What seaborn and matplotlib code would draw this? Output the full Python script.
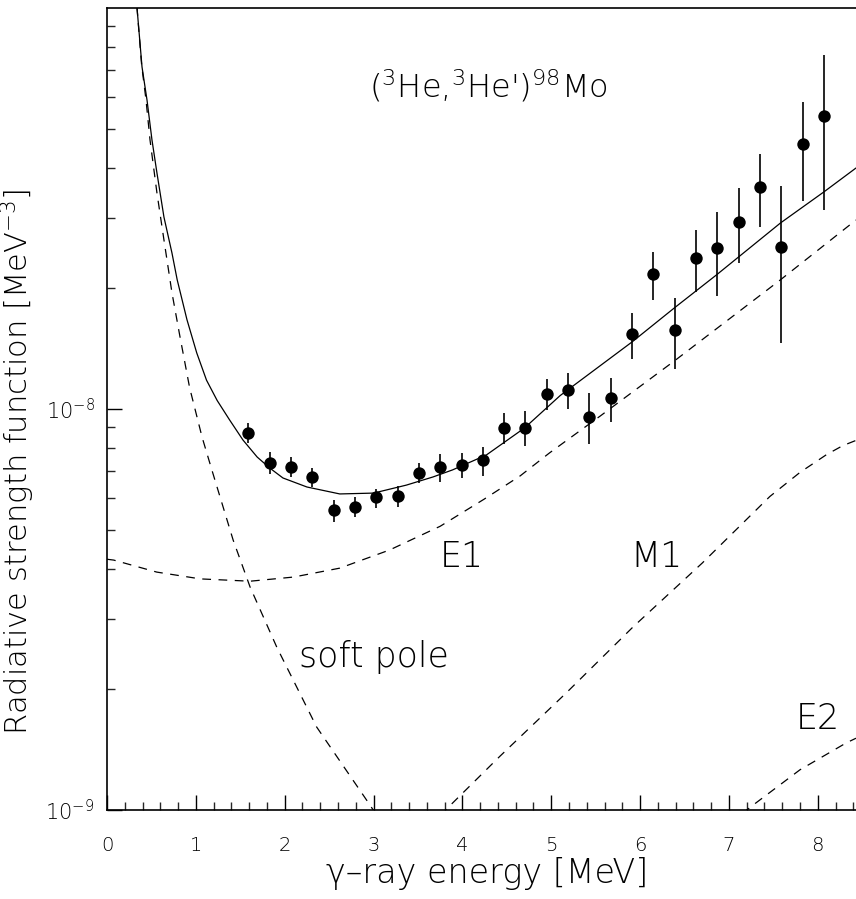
import numpy as np
import pandas as pd
import matplotlib
matplotlib.use("Agg")
import matplotlib.pyplot as plt
import seaborn as sns
from matplotlib.ticker import FixedLocator, NullFormatter, MultipleLocator

# all strengths below are in units of 1e-9 MeV^-3
SCALE = 1e-9

# measured points with error bars (upper / lower ends)
energy = [1.59, 1.83, 2.07, 2.31, 2.55, 2.79, 3.03, 3.27, 3.51, 3.75, 3.99, 4.23, 4.47, 4.71,
          4.95, 5.19, 5.43, 5.67, 5.91, 6.15, 6.39, 6.63, 6.87, 7.11, 7.35, 7.59, 7.83, 8.07]
strength = [8.71, 7.33, 7.17, 6.77, 5.60, 5.70, 6.03, 6.07, 6.92, 7.17, 7.25, 7.46, 8.97, 8.97,
            10.90, 11.15, 9.55, 10.65, 15.38, 21.72, 15.74, 23.79, 25.20, 29.25, 35.78, 25.35,
            45.77, 53.78]
upper = [9.23, 7.81, 7.59, 7.13, 5.93, 6.03, 6.32, 6.43, 7.33, 7.72, 7.77, 8.04, 9.77, 9.89,
         11.88, 12.30, 10.96, 11.95, 17.35, 24.63, 18.91, 27.95, 30.99, 35.57, 43.24, 35.98,
         58.29, 76.33]
lower = [8.23, 6.88, 6.77, 6.39, 5.23, 5.38, 5.67, 5.70, 6.54, 6.58, 6.73, 6.81, 8.18, 8.09,
         9.94, 10.00, 8.18, 9.28, 13.32, 18.70, 12.59, 19.57, 19.13, 23.12, 28.44, 14.61,
         33.02, 31.36]

# model curves
total_e = [0.337, 0.394, 0.45, 0.506, 0.562, 0.641, 0.731, 0.79, 0.90, 1.01, 1.12, 1.24, 1.38,
           1.53, 1.69, 1.83, 1.98, 2.25, 2.62, 3.00, 3.37, 3.67, 3.89, 4.27, 4.70, 5.10, 5.91,
           6.39, 6.86, 7.58, 8.07, 8.43]
total_s = [100.6, 71.3, 59.0, 46.9, 38.8, 30.1, 24.5, 21.0, 16.7, 13.8, 11.8, 10.5, 9.39,
           8.37, 7.59, 7.13, 6.73, 6.39, 6.14, 6.17, 6.46, 6.77, 7.05, 7.68, 8.97, 10.8, 14.7,
           17.9, 21.6, 29.1, 34.8, 39.9]

e1_e = [0.00, 0.075, 0.56, 1.05, 1.61, 2.10, 2.62, 3.18, 3.75, 4.24, 4.65, 4.98, 5.55, 6.39,
        7.58, 8.43]
e1_s = [4.22, 4.20, 3.92, 3.77, 3.72, 3.81, 4.01, 4.45, 5.10, 5.95, 6.81, 7.77, 9.60, 13.2,
        21.0, 29.6]

soft_e = [0.337, 0.39, 0.439, 0.484, 0.562, 0.641, 0.731, 0.82, 0.93, 1.07, 1.18, 1.42, 1.61,
          1.91, 2.36, 2.92, 3.05]
soft_s = [100.6, 72.0, 59.0, 46.9, 34.6, 26.4, 19.5, 15.2, 11.3, 8.51, 7.05, 4.71, 3.60,
          2.55, 1.61, 1.06, 0.96]

m1_e = [3.75, 4.42, 5.17, 5.92, 6.33, 6.70, 7.12, 7.46, 7.80, 8.10, 8.28, 8.43]
m1_s = [0.97, 1.36, 1.96, 2.86, 3.47, 4.13, 5.10, 6.05, 6.95, 7.70, 8.10, 8.35]

e2_e = [7.15, 7.30, 7.80, 8.32, 8.43]
e2_s = [0.98, 1.04, 1.26, 1.47, 1.51]

sns.set_style("ticks")
plt.rcParams["font.family"] = ["DejaVu Sans"]
plt.rcParams["font.weight"] = "ultralight"
plt.rcParams["axes.labelweight"] = "ultralight"
plt.rcParams["mathtext.default"] = "regular"
plt.rcParams["text.color"] = "black"
plt.rcParams["axes.labelcolor"] = "black"

fig = plt.figure(figsize=(8.56, 8.99), dpi=100)
ax = fig.add_axes([107 / 856, 89 / 899, 1 - 107 / 856, (810 - 8) / 899])

curves = [(total_e, total_s, "-"), (e1_e, e1_s, "--"), (soft_e, soft_s, "--"),
          (m1_e, m1_s, "--"), (e2_e, e2_s, "--")]
for xs, ys, style in curves:
    df = pd.DataFrame({"E": xs, "f": np.array(ys) * SCALE})
    sns.lineplot(data=df, x="E", y="f", ax=ax, color="black", lw=0.9,
                 sort=False, estimator=None)
    if style == "--":
        ax.lines[-1].set_dashes((7, 6))

pts = pd.DataFrame({"E": energy, "f": np.array(strength) * SCALE,
                    "hi": np.array(upper) * SCALE, "lo": np.array(lower) * SCALE})
ax.errorbar(pts["E"], pts["f"], yerr=[pts["f"] - pts["lo"], pts["hi"] - pts["f"]],
            fmt="none", ecolor="black", elinewidth=1.2, capsize=0)
sns.scatterplot(data=pts, x="E", y="f", ax=ax, color="black", s=80, linewidth=0, zorder=3)

ax.set_yscale("log")
ax.set_xlim(0, 8.43)
ax.set_ylim(1e-9, 1e-7)

ax.xaxis.set_major_locator(MultipleLocator(1))
ax.xaxis.set_minor_locator(MultipleLocator(0.2))
ax.yaxis.set_major_locator(FixedLocator([1e-9, 1e-8]))
ax.yaxis.set_minor_locator(FixedLocator([k * 1e-9 for k in range(2, 10)] +
                                        [k * 1e-8 for k in range(2, 10)]))
ax.yaxis.set_minor_formatter(NullFormatter())
ax.set_yticklabels(["10$^{-9}$", "10$^{-8}$"])
ax.tick_params(which="major", direction="in", length=11, width=1.0, colors="black")
ax.tick_params(which="minor", direction="in", length=6, width=1.0)
ax.tick_params(axis="x", which="major", pad=19, labelsize=14)
ax.tick_params(axis="y", which="major", pad=9, labelsize=15)

ax.spines["right"].set_visible(False)
for s in ["left", "bottom", "top"]:
    ax.spines[s].set_linewidth(1.2)
    ax.spines[s].set_color("black")

ax.set_xlabel("\u03b3\u2013ray energy [MeV]", fontsize=24, va="top")
ax.xaxis.set_label_coords(0.507, -0.058)
ax.set_ylabel("Radiative strength function [MeV$^{-3}$]", fontsize=22)
ax.yaxis.set_label_coords(-0.0935, 0.434)

ax.text(4.29, 6.4e-8, "($^{3}$He,$^{3}$He')$^{98}$Mo", fontsize=23, ha="center", va="center")
ax.text(3.99, 4.28e-9, "E1", fontsize=25, ha="center", va="center")
ax.text(6.18, 4.28e-9, "M1", fontsize=25, ha="center", va="center")
ax.text(3.01, 2.41e-9, "soft pole", fontsize=25, ha="center", va="center")
ax.text(8.0, 1.69e-9, "E2", fontsize=25, ha="center", va="center")

fig.savefig("out.png", dpi=100)
